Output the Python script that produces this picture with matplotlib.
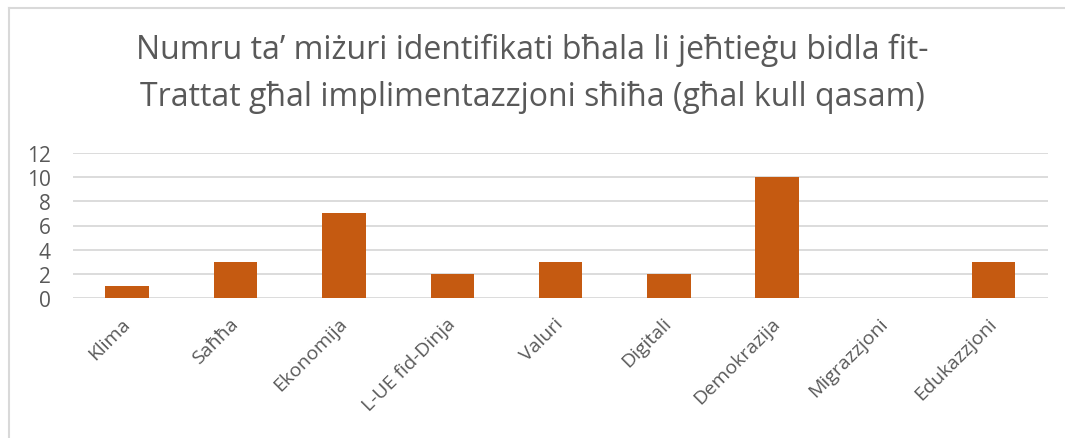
import matplotlib
matplotlib.use('Agg')
import matplotlib.pyplot as plt
import matplotlib.transforms as mtransforms
from matplotlib.lines import Line2D

categories = ['Klima', 'Saħħa', 'Ekonomija', 'L-UE fid-Dinja', 'Valuri',
              'Digitali', 'Demokrazija', 'Migrazzjoni', 'Edukazzjoni']
values = [1, 3, 7, 2, 3, 2, 10, 0, 3]
yticks = [0, 2, 4, 6, 8, 10, 12]
title_lines = ['Numru ta\u2019 miżuri identifikati bħala li jeħtieġu bidla fit-',
               'Trattat għal implimentazzjoni sħiħa (għal kull qasam)']

bar_color = '#C55A11'
text_color = '#595959'
grid_color = '#D9D9D9'

plt.rcParams['font.family'] = ['Open Sans', 'DejaVu Sans']

W, H = 1065, 439
fig = plt.figure(figsize=(W / 100, H / 100), dpi=100)
ax = fig.add_axes([73 / W, 1 - 299 / H, (1048 - 73) / W, (299 - 154) / H])

x = range(len(categories))
ax.bar(x, values, width=0.4, color=bar_color, zorder=3)
ax.set_xlim(-0.5, len(categories) - 0.5)
ax.set_ylim(0, 12)
ax.set_yticks(yticks)
ax.set_yticklabels([str(v) for v in yticks], fontsize=15, color=text_color)
ax.set_xticks(list(x))
ax.set_xticklabels(categories, rotation=45, ha='right', va='center',
                   rotation_mode='anchor', fontsize=14, color=text_color)
shift = mtransforms.ScaledTranslation(-7 / 100, 0, fig.dpi_scale_trans)
for lab in ax.get_xticklabels():
    lab.set_transform(lab.get_transform() + shift)
ax.tick_params(axis='both', length=0)
ax.tick_params(axis='x', pad=16)
ax.tick_params(axis='y', pad=16)
ax.grid(axis='y', color=grid_color, linewidth=1.3, zorder=0)
for s in ax.spines.values():
    s.set_visible(False)

for yy, line in zip([50, 98], title_lines):
    fig.text(0.5, 1 - yy / H, line, ha='center', va='center', fontsize=23,
             color=text_color)

# chart border (left and top visible)
fig.add_artist(Line2D([9 / W, 9 / W], [0, 1 - 9 / H], color='#D9D9D9', lw=1.5))
fig.add_artist(Line2D([9 / W, 1], [1 - 9 / H, 1 - 9 / H], color='#D9D9D9', lw=1.5))

fig.savefig('out.png', dpi=100)
